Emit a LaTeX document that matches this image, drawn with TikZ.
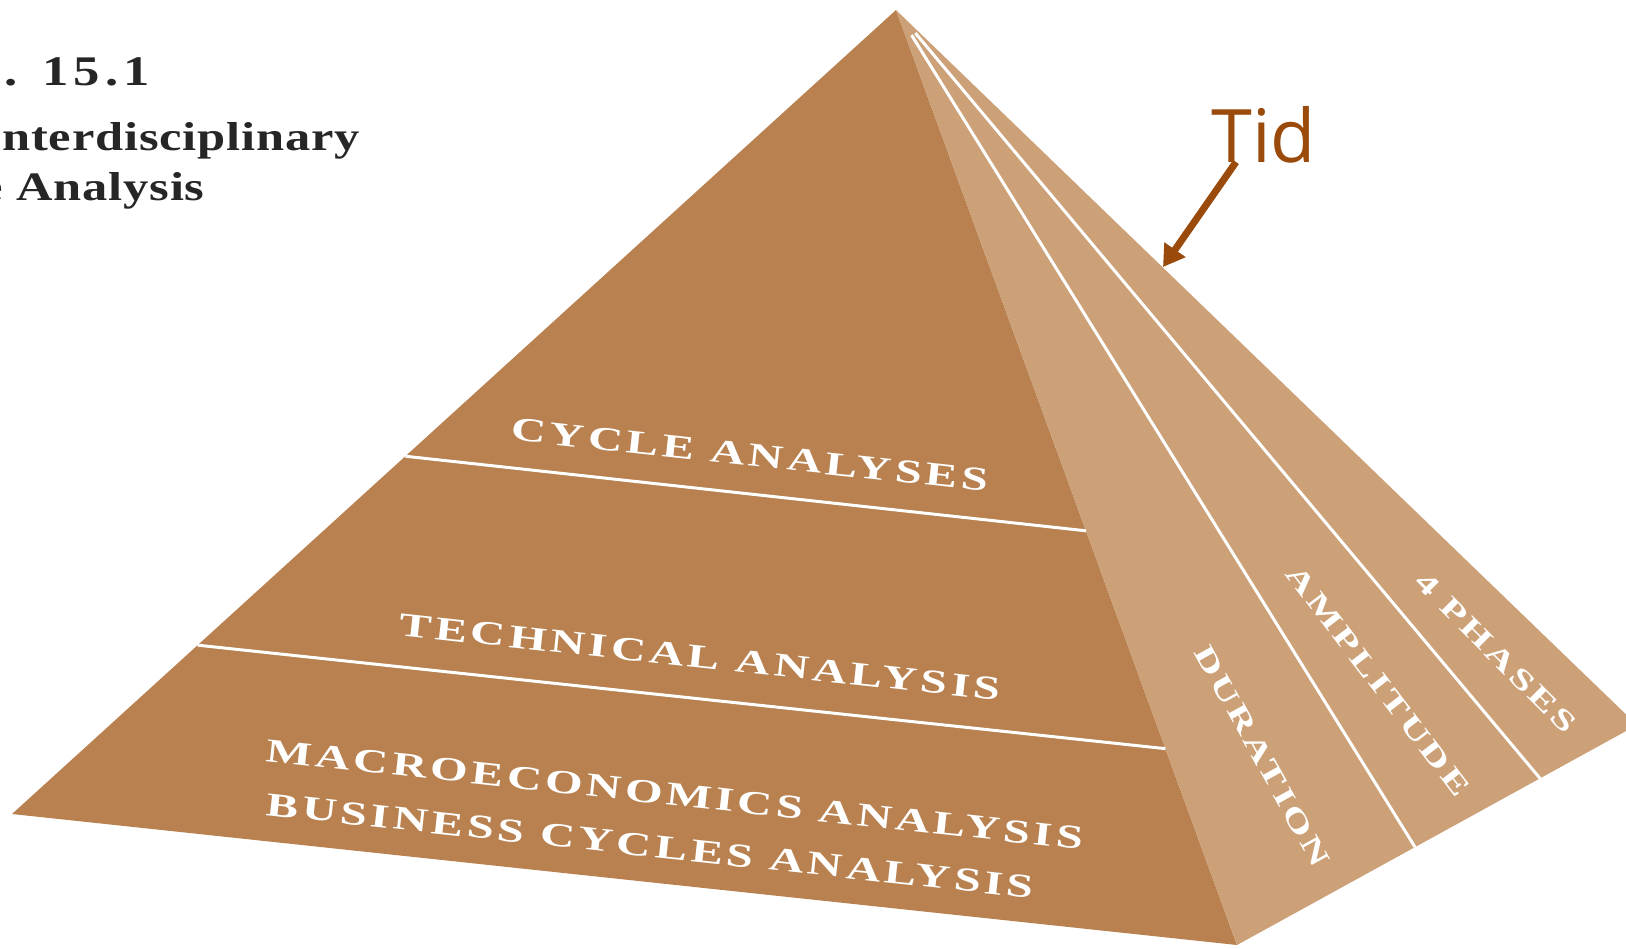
\documentclass[tikz,border=0pt]{standalone}
\usepackage{fontspec}
\usepackage{tikz}
\usetikzlibrary{arrows.meta, calc}
\setmainfont{Liberation Serif}
\newfontfamily\pyrfont{Liberation Serif}[FakeStretch=1.45, LetterSpace=11]
\newfontfamily\capfont{Liberation Serif}[FakeStretch=1.25, LetterSpace=2]
\newfontfamily\numfont{Liberation Serif}[FakeStretch=1.25, LetterSpace=12]
\newfontfamily\tidfont{Open Sans}
\definecolor{frontface}{HTML}{B8814F}
\definecolor{sideface}{HTML}{CCA178}
\definecolor{tidbrown}{HTML}{9A4A0A}

\begin{document}
\begin{tikzpicture}[x=0.02cm, y=-0.02cm,
	layerlabel/.style={text=white, inner sep=0pt, rotate=-6.2, font=\pyrfont\bfseries\fontsize{19}{22}\selectfont},
	sidelabel/.style={text=white, inner sep=0pt, font=\pyrfont\bfseries\fontsize{16.5}{20}\selectfont},
	captext/.style={inner sep=0pt, anchor=base east, text=black!85, font=\capfont\bfseries\fontsize{23}{26}\selectfont},
	seam/.style={white, line width=1.7pt}]

	\useasboundingbox (0,0) rectangle (1626,948);
	\clip (0,0) rectangle (1626,948);

	\coordinate (apex) at (896,10);
	\coordinate (left) at (12,814);
	\coordinate (front) at (1237,945);
	\coordinate (right) at (1637,725);

	\coordinate (seamAl) at ($ (apex)!0.555!(left) $);
	\coordinate (seamAr) at ($ (apex)!0.557!(front) $);
	\coordinate (seamBl) at ($ (apex)!0.790!(left) $);
	\coordinate (seamBr) at ($ (apex)!0.790!(front) $);
	\coordinate (seamC) at ($ (front)!0.445!(right) $);
	\coordinate (seamD) at ($ (front)!0.7575!(right) $);

	\fill[frontface] (apex) -- (left) -- (front) -- cycle;
	\fill[sideface] (apex) -- (front) -- (right) -- cycle;

	\draw[seam] (seamAl) -- (seamAr);
	\draw[seam] (seamBl) -- (seamBr);
	\draw[seam] ($ (apex)!0.03!(seamC) $) -- (seamC);
	\draw[seam] ($ (apex)!0.03!(seamD) $) -- (seamD);

	\node[layerlabel] (cycle) at (750,455) {CYCLE ANALYSES};
	\node[layerlabel] (technical) at (700,657) {TECHNICAL ANALYSIS};
	\node[layerlabel, anchor=base west] (macro) at (265,761) {MACROECONOMICS ANALYSIS};
	\node[layerlabel, anchor=base west] (business) at ($ (macro.base west)+(0,54) $) {BUSINESS CYCLES ANALYSIS};

	\node[sidelabel, rotate=-61] (duration) at (1262,756) {DURATION};
	\node[sidelabel, rotate=-52.6] (amplitude) at (1378,681) {AMPLITUDE};
	\node[sidelabel, rotate=-45] (phases) at (1496,653) {4 PHASES};

	\node[captext, font=\numfont\bfseries\fontsize{24}{26}\selectfont] (fignum) at (150,85) {. 15.1};
	\node[captext] (capline) at (360,150) {Interdisciplinary};
	\node[captext] (capend) at (205,200) {e Analysis};

	\node[inner sep=0pt, anchor=base west, text=tidbrown, font=\tidfont\fontsize{42}{48}\selectfont] (tid) at (1211,162) {Tid};
	\coordinate (tidtip) at (1163,267);
	\draw[tidbrown, line width=4pt, -{Triangle[length=12pt, width=14pt]}] ($ (tid.base west)+(25,0) $) -- (tidtip);

\end{tikzpicture}
\end{document}
